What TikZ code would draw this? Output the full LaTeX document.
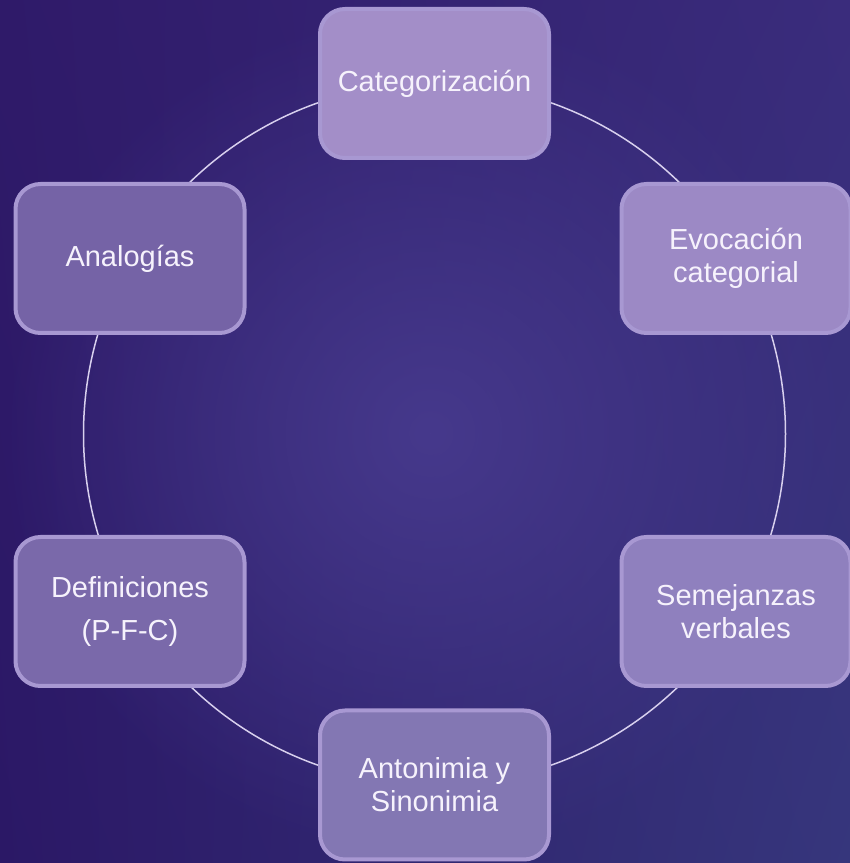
\documentclass[tikz,border=0pt]{standalone}
\usepackage{fontspec}
\setmainfont{Liberation Sans}
\usetikzlibrary{fadings,shadings}
\tikzfading[name=glowfade, inner color=transparent!0, outer color=transparent!100]
\definecolor{bgmid}{HTML}{46398C}
\definecolor{bgul}{HTML}{2F1A69}
\definecolor{bgur}{HTML}{3A2C7C}
\definecolor{bgll}{HTML}{2B1866}
\definecolor{bglr}{HTML}{36367C}
\definecolor{bordc}{HTML}{A898D2}
\definecolor{ringc}{HTML}{D8D0EE}
\definecolor{txtc}{HTML}{F6F2FC}
\definecolor{fcat}{HTML}{A38EC8}
\definecolor{fevo}{HTML}{9C89C5}
\definecolor{fsem}{HTML}{8F80BE}
\definecolor{fant}{HTML}{8377B3}
\definecolor{fdef}{HTML}{7A69AA}
\definecolor{fana}{HTML}{7563A6}
\tikzset{
  card/.style={draw=bordc, line width=4pt, rounded corners=25pt,
    minimum width=229pt, minimum height=149pt, align=center,
    text=txtc, font=\fontsize{29}{33}\selectfont, inner sep=0pt},
  ring/.style={draw=ringc, line width=1.5pt}
}
\begin{document}
\begin{tikzpicture}[x=1pt,y=1pt]
\useasboundingbox (0,0) rectangle (850,863);
\shade[upper left=bgul, upper right=bgur, lower left=bgll, lower right=bglr] (0,0) rectangle (850,863);
\fill[bgmid, path fading=glowfade] (430,430) circle[radius=430];
\coordinate (ctr) at (434.5,429);
\draw[ring] (ctr) circle[radius=351];
\node[card, fill=fcat] (cat) at (434.5,779.5) {Categorización};
\node[card, fill=fevo] (evo) at (736,604.5) {Evocación\\categorial};
\node[card, fill=fsem] (sem) at (736,251.5) {Semejanzas\\verbales};
\node[card, fill=fant] (ant) at (434.5,78) {Antonimia y\\Sinonimia};
\node[card, fill=fdef, font=\fontsize{29}{43}\selectfont] (def) at (130,251.5) {Definiciones\\(P-F-C)};
\node[card, fill=fana] (ana) at (130,604.5) {Analogías};
\end{tikzpicture}
\end{document}
